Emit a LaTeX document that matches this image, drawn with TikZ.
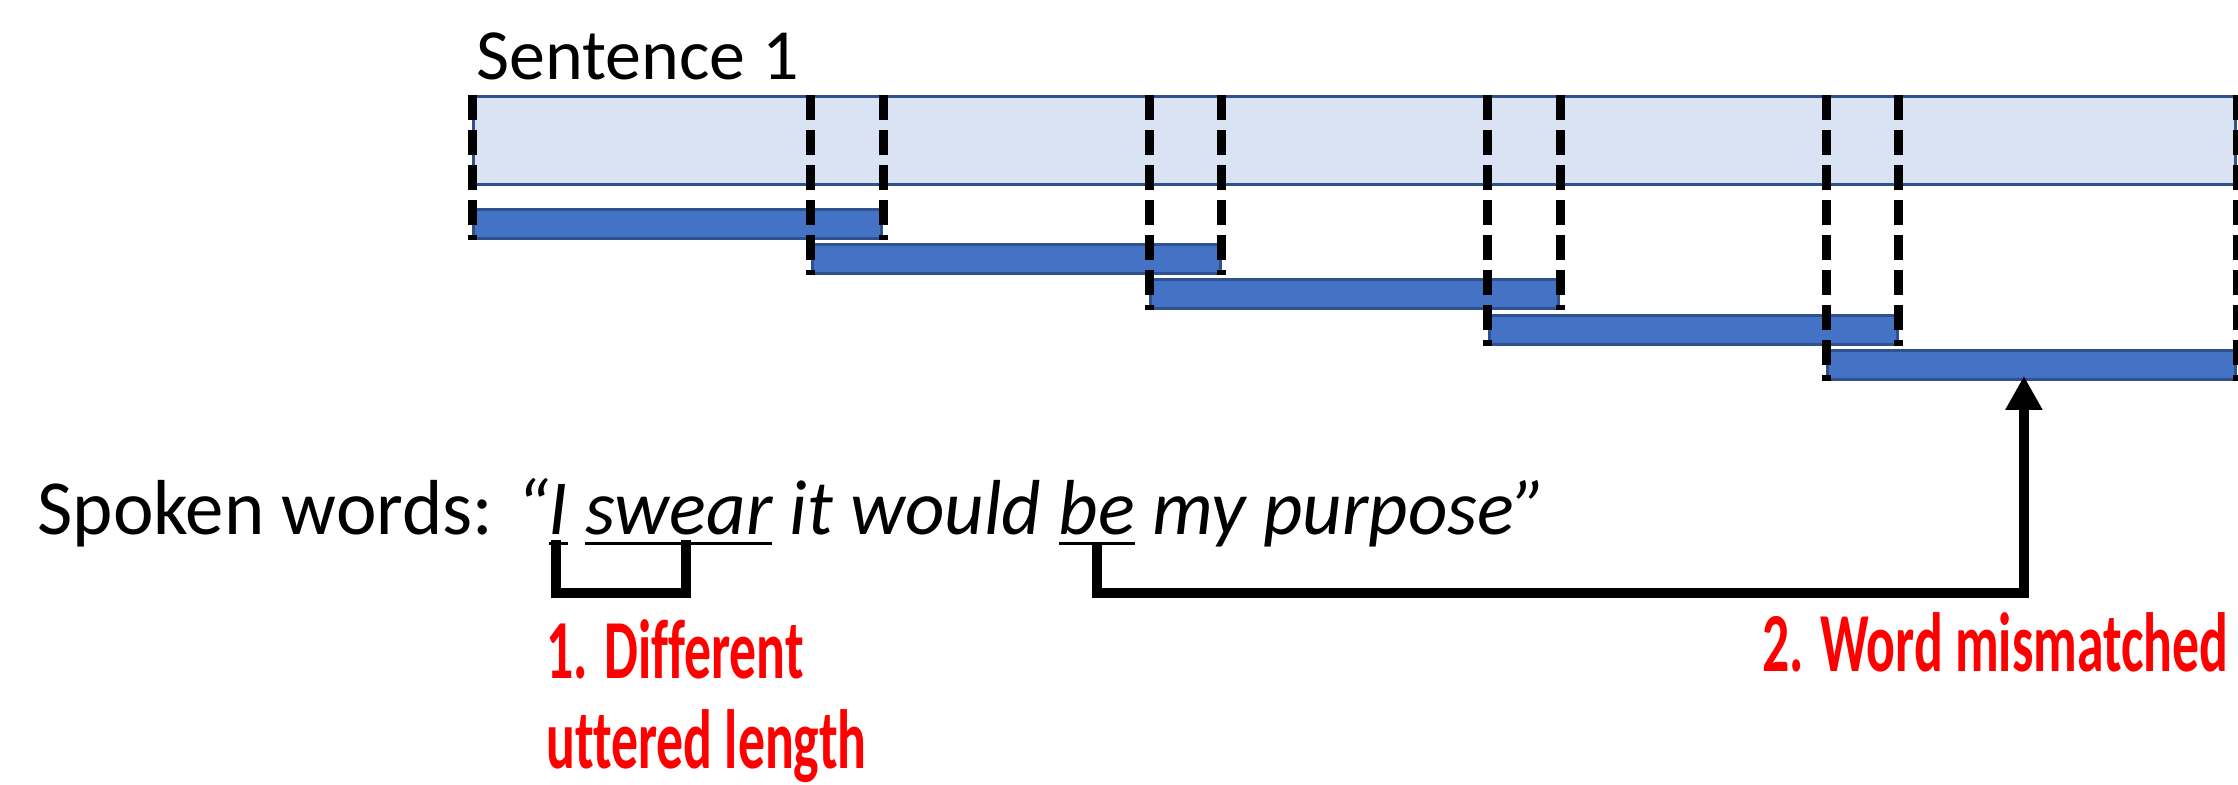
\documentclass[tikz,border=0pt]{standalone}
\usepackage{fontspec}
\setmainfont{Carlito}
\newfontfamily\spokenfont[FakeStretch=0.985]{Carlito}
\newfontfamily\flagfont[FakeStretch=0.64,Ligatures=NoCommon]{Carlito}
\usetikzlibrary{arrows.meta}
\definecolor{barblue}{HTML}{4472C4}
\definecolor{barline}{HTML}{2F528F}
\definecolor{bandblue}{HTML}{DAE3F3}
\newcommand{\uword}[1]{\setbox0\hbox{#1}\rlap{\rule[-5.25pt]{\wd0}{1.5pt}}\box0\relax}

\begin{document}
\begin{tikzpicture}[x=0.5pt,y=0.5pt,yscale=-1,
    bar/.style={draw=barline,line width=1.5pt,fill=barblue,anchor=north west,minimum width=204pt,minimum height=14.5pt,inner sep=0pt},
    cut/.style={line width=4.5pt,dash pattern=on 12.5pt off 5pt},
    hook/.style={line width=5.25pt,line join=miter},
    flag/.style={text=red,font=\flagfont\bfseries\fontsize{42}{45}\selectfont,anchor=base west,inner sep=0pt,align=left}]
    \useasboundingbox (0,0) rectangle (2238,785);
    \node [draw=barline,line width=1.5pt,fill=bandblue,anchor=north west,minimum width=881pt,minimum height=44pt,inner sep=0pt] (band) at (472,95) {};
    \node [anchor=base west,inner sep=0pt,font=\fontsize{36}{40}\selectfont] (title) at (476,80) {Sentence 1};
    \foreach \i in {1,...,5}
        \node [bar] (bar\i) at ({472+338.6*(\i-1)},{208+35.25*(\i-1)}) {};
    \foreach \i in {1,...,5}
        \draw [cut] (bar\i.north west |- band.north) -- (bar\i.south west)
                    (bar\i.north east |- band.north) -- (bar\i.south east);
    \node [anchor=base west,inner sep=0pt,font=\spokenfont\fontsize{39}{44}\selectfont] (spoken) at (37,535) {Spoken words: \textit{“\uword{I} \uword{swear} it would \uword{be} my purpose”}};
    \coordinate (iword) at (556,540);
    \coordinate (swearword) at (686,540);
    \coordinate (beword) at (1097,545);
    \draw [hook] (iword) -- ++(0,53) -| (swearword);
    \draw [hook,-{Triangle[width=17.5pt,length=17pt]}] (beword) -- ++(0,48) -| ([xshift=-4pt,yshift=-2.5pt]bar5.south);
    \node [flag] (difflen) at (546,768) {1. Different\\uttered length};
    \node [flag] (mismatch) at (1762,671) {2. Word mismatched};
\end{tikzpicture}
\end{document}
